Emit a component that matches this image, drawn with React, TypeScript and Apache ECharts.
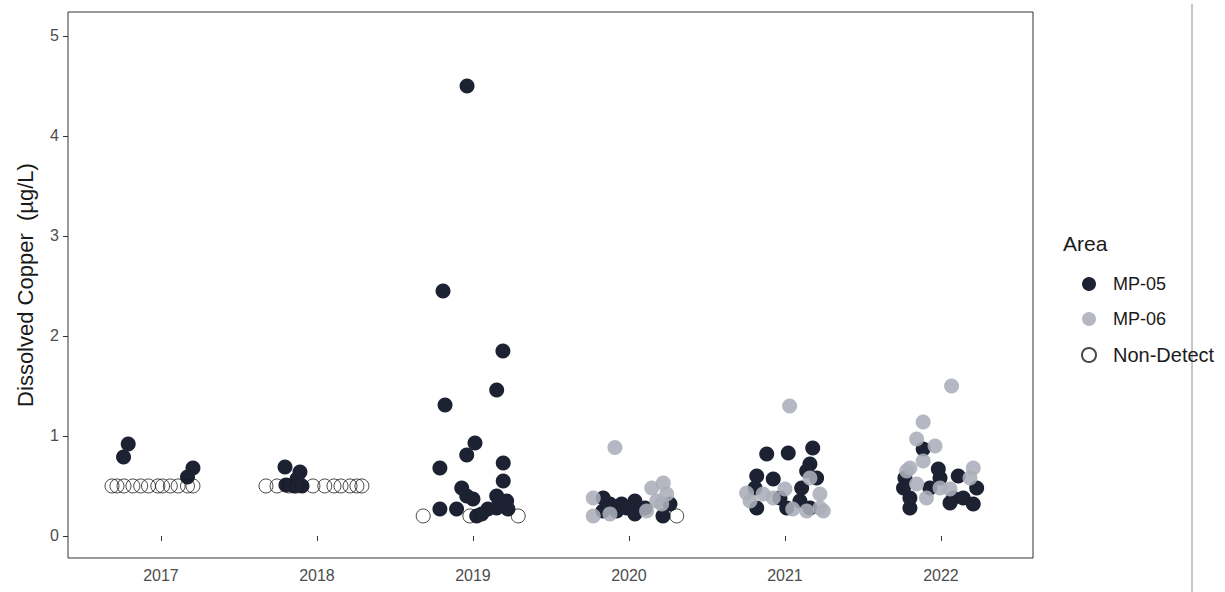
import React, { useEffect, useRef } from "react";
import * as echarts from "echarts";

const yearTicks = [2017, 2018, 2019, 2020, 2021, 2022];
const valueTicks = [0, 1, 2, 3, 4, 5];

const mp05Points: number[][] = [
  [2016.79, 0.92], [2016.76, 0.79], [2017.205, 0.68], [2017.17, 0.59],
  [2017.795, 0.69], [2017.891, 0.64], [2017.801, 0.51], [2017.853, 0.5], [2017.904, 0.5], [2017.872, 0.57],
  [2018.962, 4.5], [2018.808, 2.45], [2019.192, 1.85], [2019.152, 1.46], [2018.821, 1.31], [2019.013, 0.93],
  [2018.96, 0.81], [2018.788, 0.68], [2019.194, 0.73], [2019.194, 0.55], [2018.928, 0.48], [2018.96, 0.4],
  [2019.0, 0.37], [2018.895, 0.27], [2018.788, 0.27], [2019.152, 0.4], [2019.216, 0.35], [2019.224, 0.27],
  [2019.152, 0.28], [2019.096, 0.27], [2019.024, 0.2], [2019.056, 0.22],
  [2019.835, 0.38], [2019.878, 0.32], [2019.953, 0.32], [2020.038, 0.35], [2020.103, 0.28], [2019.833, 0.25],
  [2020.038, 0.22], [2020.263, 0.32], [2020.218, 0.2], [2019.921, 0.25], [2019.985, 0.28],
  [2020.883, 0.82], [2021.021, 0.83], [2021.178, 0.88], [2021.16, 0.72], [2020.819, 0.6], [2020.925, 0.57],
  [2021.139, 0.65], [2021.203, 0.58], [2020.808, 0.48], [2021.107, 0.48], [2021.096, 0.35], [2021.16, 0.28],
  [2020.819, 0.28], [2020.968, 0.38], [2021.011, 0.28],
  [2021.886, 0.87], [2021.983, 0.67], [2021.769, 0.58], [2022.111, 0.6], [2022.229, 0.48], [2022.079, 0.38],
  [2022.143, 0.38], [2022.207, 0.32], [2022.058, 0.33], [2021.801, 0.38], [2021.801, 0.28], [2021.76, 0.48],
  [2021.929, 0.48], [2021.994, 0.58],
];

const mp06Points: number[][] = [
  [2019.91, 0.885], [2019.771, 0.38], [2019.771, 0.2], [2020.146, 0.48], [2020.22, 0.53], [2020.178, 0.35],
  [2020.242, 0.42], [2020.21, 0.32], [2020.113, 0.25], [2019.878, 0.22],
  [2021.03, 1.3], [2021.16, 0.58], [2020.754, 0.43], [2020.86, 0.42], [2021.0, 0.47], [2020.925, 0.38],
  [2021.224, 0.42], [2021.246, 0.25], [2021.05, 0.27], [2020.776, 0.35], [2021.139, 0.25], [2021.224, 0.28],
  [2022.068, 1.5], [2021.886, 1.14], [2021.844, 0.97], [2021.962, 0.9], [2021.886, 0.75], [2021.801, 0.68],
  [2022.207, 0.68], [2021.994, 0.48], [2022.058, 0.47], [2021.907, 0.38], [2021.844, 0.52], [2022.186, 0.58],
  [2021.78, 0.65],
];

const nonDetectPoints: number[][] = [
  [2016.686, 0.5], [2016.718, 0.5], [2016.763, 0.5], [2016.82, 0.5], [2016.87, 0.5], [2016.92, 0.5],
  [2016.98, 0.5], [2017.01, 0.5], [2017.06, 0.5], [2017.11, 0.5], [2017.17, 0.5], [2017.205, 0.5],
  [2017.673, 0.5], [2017.744, 0.5], [2017.82, 0.5], [2017.87, 0.5], [2017.974, 0.5], [2018.05, 0.5],
  [2018.109, 0.5], [2018.154, 0.5], [2018.212, 0.5], [2018.256, 0.5], [2018.288, 0.5],
  [2018.681, 0.2], [2018.98, 0.2], [2019.29, 0.2],
  [2020.306, 0.2],
];

const FONT = "Liberation Sans, Arial, sans-serif";

export default function App() {
  const ref = useRef<HTMLDivElement>(null);
  useEffect(() => {
    if (!ref.current) return;
    const chart = echarts.init(ref.current, undefined, { renderer: "svg" });
    chart.setOption({
      animation: false,
      backgroundColor: "#ffffff",
      textStyle: { fontFamily: FONT },
      grid: {
        left: 68,
        top: 12,
        width: 965,
        height: 546,
        show: true,
        borderColor: "#333333",
        borderWidth: 1,
        backgroundColor: "transparent",
      },
      xAxis: {
        type: "value",
        min: 2016.404,
        max: 2022.59,
        axisLine: { show: false },
        splitLine: { show: false },
        axisTick: { show: true, length: 5, customValues: yearTicks, lineStyle: { color: "#333333" } },
        axisLabel: {
          customValues: yearTicks,
          color: "#4d4d4d",
          fontSize: 16,
          fontFamily: FONT,
          margin: 9,
          formatter: (v: number) => String(Math.round(v)),
        },
      },
      yAxis: {
        type: "value",
        min: -0.2204,
        max: 5.24,
        name: "Dissolved Copper  (µg/L)",
        nameLocation: "middle",
        nameGap: 32,
        nameTextStyle: { fontSize: 22, color: "#1a1a1a", fontFamily: FONT },
        axisLine: { show: false },
        splitLine: { show: false },
        axisTick: { show: true, length: 5, customValues: valueTicks, lineStyle: { color: "#333333" } },
        axisLabel: {
          customValues: valueTicks,
          color: "#4d4d4d",
          fontSize: 16,
          fontFamily: FONT,
          margin: 9,
        },
      },
      legend: {
        orient: "vertical",
        left: 1076,
        top: 270,
        itemWidth: 38,
        itemHeight: 14,
        itemGap: 17,
        symbolKeepAspect: true,
        textStyle: { fontSize: 18, color: "#1a1a1a", fontFamily: FONT },
        data: [
          { name: "MP-05", icon: "circle" },
          { name: "MP-06", icon: "circle" },
          { name: "Non-Detect", icon: "circle", textStyle: { fontSize: 20 } },
        ],
      },
      graphic: [
        {
          type: "text",
          left: 1063,
          top: 233,
          style: { text: "Area", fontSize: 21, fill: "#1a1a1a", fontFamily: FONT },
        },
        {
          type: "line",
          shape: { x1: 1192, y1: 4, x2: 1192, y2: 592 },
          style: { stroke: "#b5b5b5", lineWidth: 1.5 },
        },
      ],
      series: [
        {
          name: "MP-05",
          type: "scatter",
          data: mp05Points,
          symbol: "circle",
          symbolSize: 15,
          itemStyle: { color: "#1c2232", opacity: 1 },
        },
        {
          name: "MP-06",
          type: "scatter",
          data: mp06Points,
          symbol: "circle",
          symbolSize: 15,
          itemStyle: { color: "#abaeb9", opacity: 0.88 },
        },
        {
          name: "Non-Detect",
          type: "scatter",
          data: nonDetectPoints,
          symbol: "circle",
          symbolSize: 14,
          itemStyle: { color: "rgba(255,255,255,0)", borderColor: "#1a1a1a", borderWidth: 1 },
        },
      ],
    });
    return () => chart.dispose();
  }, []);
  return (
    <div
      ref={ref}
      style={{ position: "fixed", left: 0, top: 0, width: 1225, height: 592 }}
    />
  );
}
